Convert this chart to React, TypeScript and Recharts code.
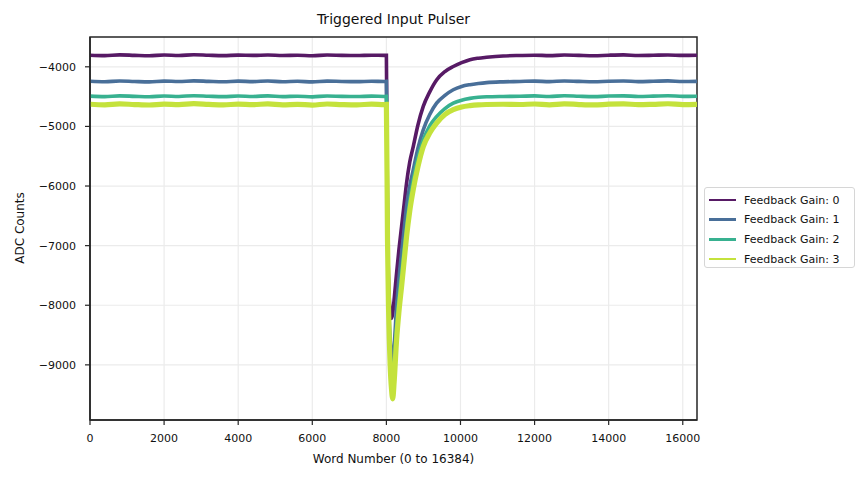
import React from 'react'
import { LineChart, Line, XAxis, YAxis, CartesianGrid, ReferenceArea } from 'recharts'

// word positions shared by all four traces
const words = [
  0, 400, 800, 1200, 1600, 2000, 2400, 2800, 3200, 3600, 4000, 4400, 4800, 5200, 5600, 6000, 6400, 6800, 7200, 7600, 7950, 8000,
  8030, 8060, 8100, 8140, 8170, 8210, 8275, 8340, 8410, 8480, 8545, 8630, 8725, 8850, 8995, 9170, 9355, 9580, 9805, 10030, 10255, 10480, 10705, 11150,
  11605, 12000, 12400, 12800, 13200, 13600, 14000, 14400, 14800, 15200, 15600, 16000, 16384,
]

const gain0 = [
  -3805, -3812, -3800, -3808, -3815, -3803, -3810, -3798, -3806, -3812, -3804, -3809, -3801, -3811, -3806, -3814, -3802, -3808, -3811, -3805, -3809, -3806,
  -6500, -7600, -8080, -8220, -8140, -7900, -7460, -7060, -6680, -6300, -5950, -5600, -5340, -4980, -4665, -4420, -4220, -4080, -3995, -3930, -3880, -3855, -3840, -3818,
  -3810, -3806, -3812, -3803, -3809, -3814, -3805, -3800, -3811, -3807, -3802, -3809, -3806,
]

const gain1 = [
  -4242, -4250, -4238, -4246, -4252, -4240, -4247, -4236, -4244, -4251, -4241, -4248, -4239, -4250, -4243, -4253, -4240, -4246, -4249, -4242, -4247, -4244,
  -6700, -7900, -8550, -8850, -8915, -8680, -8020, -7550, -7125, -6720, -6340, -6000, -5730, -5370, -5057, -4800, -4610, -4480, -4385, -4330, -4300, -4280, -4265, -4252,
  -4246, -4240, -4249, -4237, -4245, -4251, -4242, -4238, -4248, -4243, -4236, -4247, -4244,
]

const gain2 = [
  -4492, -4500, -4488, -4496, -4503, -4490, -4497, -4485, -4494, -4501, -4491, -4498, -4487, -4500, -4493, -4504, -4489, -4496, -4499, -4492, -4497, -4494,
  -6800, -8000, -8780, -9120, -9215, -8980, -8355, -7880, -7460, -7050, -6680, -6250, -5895, -5530, -5225, -4990, -4835, -4700, -4610, -4560, -4530, -4512, -4503, -4497,
  -4494, -4488, -4499, -4486, -4495, -4501, -4490, -4487, -4497, -4492, -4485, -4496, -4493,
]

const gain3 = [
  -4628, -4638, -4622, -4633, -4641, -4625, -4635, -4619, -4630, -4639, -4626, -4636, -4621, -4637, -4629, -4642, -4624, -4633, -4638, -4627, -4634, -4630,
  -6900, -8100, -8980, -9420, -9570, -9280, -8580, -8100, -7685, -7250, -6845, -6420, -6060, -5680, -5340, -5110, -4945, -4800, -4720, -4675, -4652, -4638, -4632, -4628,
  -4632, -4624, -4637, -4621, -4633, -4640, -4627, -4622, -4635, -4629, -4620, -4634, -4630,
]

const seriesNames = ['Feedback Gain: 0', 'Feedback Gain: 1', 'Feedback Gain: 2', 'Feedback Gain: 3']
const seriesKeys = ['g0', 'g1', 'g2', 'g3']
const seriesColors = ['#571a65', '#496f99', '#38b190', '#c4e23c']
const seriesWidths = [3.6, 3.6, 3.6, 5.2]

const xTicks = [0, 2000, 4000, 6000, 8000, 10000, 12000, 14000, 16000]
const yTicks = [-9000, -8000, -7000, -6000, -5000, -4000]

const X_MAX = 16384
const Y_MIN = -9925
const Y_MAX = -3500

const data = words.map((w, i) => ({
  word: w,
  g0: gain0[i],
  g1: gain1[i],
  g2: gain2[i],
  g3: gain3[i],
}))

const font = '"DejaVu Sans", sans-serif'
const minus = (v: number) => String(v).replace('-', '\u2212')

export default function App() {
  return (
    <div style={{ position: 'absolute', left: 0, top: 0, width: 866, height: 482, background: '#fff', fontFamily: font }}>
      <LineChart width={866} height={482} data={data} margin={{ top: 37, right: 169, bottom: 22, left: 30 }}>
        <CartesianGrid stroke="#ebebeb" strokeWidth={1.2} horizontalValues={yTicks} verticalValues={xTicks} />
        <XAxis
          dataKey="word"
          type="number"
          domain={[0, X_MAX]}
          ticks={xTicks}
          allowDataOverflow
          height={40}
          tickSize={5}
          tickMargin={9}
          stroke="#262626"
          tick={{ fill: '#111', fontSize: 11, fontFamily: font }}
          tickLine={{ stroke: '#262626', strokeWidth: 1.2 }}
          axisLine={{ stroke: '#262626', strokeWidth: 1.5 }}
        />
        <YAxis
          type="number"
          domain={[Y_MIN, Y_MAX]}
          ticks={yTicks}
          allowDataOverflow
          width={60}
          tickSize={5}
          tickMargin={9}
          tickFormatter={minus}
          tick={{ fill: '#111', fontSize: 11, fontFamily: font }}
          tickLine={{ stroke: '#262626', strokeWidth: 1.2 }}
          axisLine={{ stroke: '#262626', strokeWidth: 1.5 }}
        />
        {seriesKeys.map((k, i) => (
          <Line
            key={k}
            dataKey={k}
            type="monotone"
            stroke={seriesColors[i]}
            strokeWidth={seriesWidths[i]}
            dot={false}
            isAnimationActive={false}
          />
        ))}
        <ReferenceArea x1={0} x2={X_MAX} y1={Y_MIN} y2={Y_MAX} fill="none" stroke="#262626" strokeWidth={1.5} />
      </LineChart>

      <div style={{ position: 'absolute', left: 90, width: 607, top: 11, textAlign: 'center', fontSize: 14, color: '#111' }}>
        Triggered Input Pulser
      </div>
      <div style={{ position: 'absolute', left: 90, width: 607, top: 452, textAlign: 'center', fontSize: 12, color: '#111' }}>
        Word Number (0 to 16384)
      </div>
      <div
        style={{
          position: 'absolute',
          left: 20,
          top: 228,
          transform: 'translate(-50%, -50%) rotate(-90deg)',
          whiteSpace: 'nowrap',
          fontSize: 12,
          color: '#111',
        }}
      >
        ADC Counts
      </div>

      <div
        style={{
          position: 'absolute',
          left: 704,
          top: 187,
          width: 149,
          height: 79,
          border: '1px solid #d6d6d6',
          borderRadius: 3,
          background: '#fff',
          boxSizing: 'content-box',
        }}
      >
        {seriesNames.map((n, i) => (
          <div key={n} style={{ position: 'absolute', left: 4, top: 3 + i * 19.7, height: 18, display: 'flex', alignItems: 'center' }}>
            <span style={{ display: 'inline-block', width: 27, height: 2.5, background: seriesColors[i] }} />
            <span style={{ marginLeft: 8, fontSize: 11, color: '#111', whiteSpace: 'nowrap' }}>{n}</span>
          </div>
        ))}
      </div>
    </div>
  )
}
